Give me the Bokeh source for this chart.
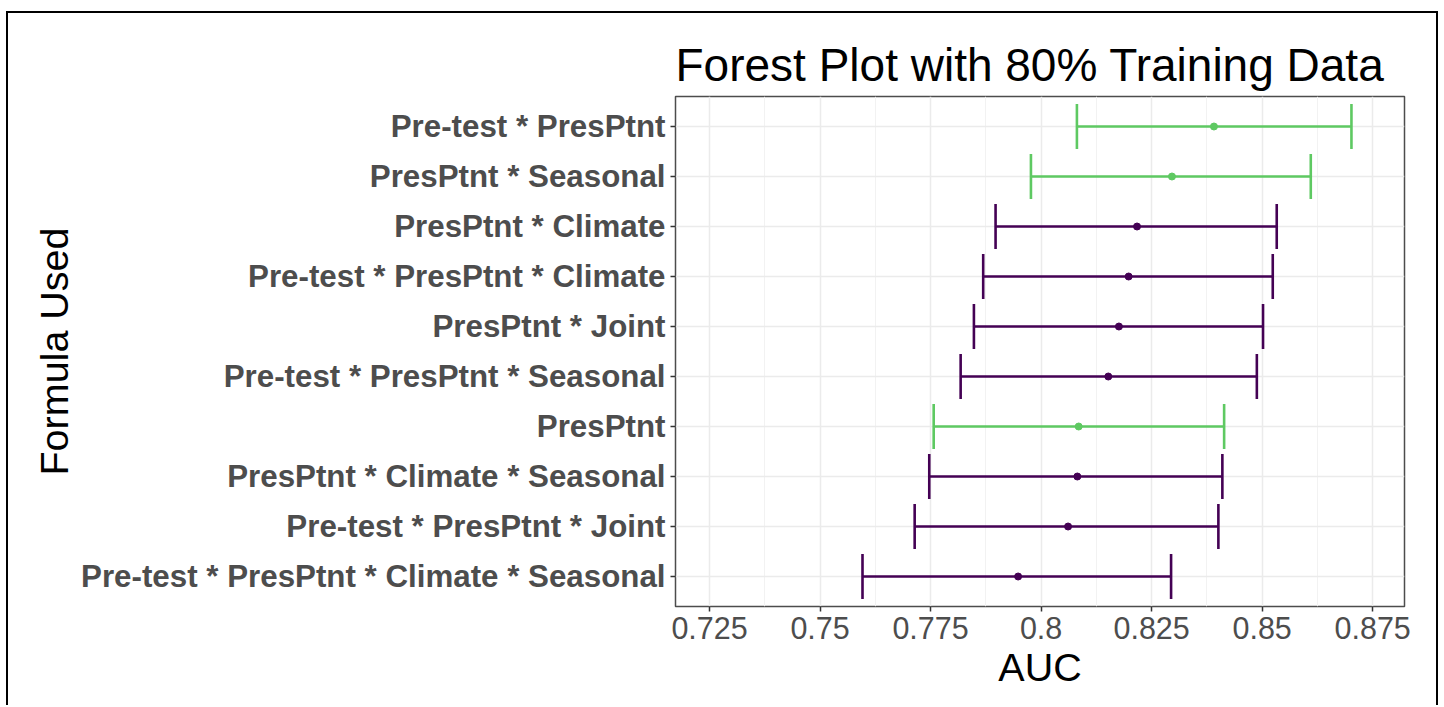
from bokeh.plotting import figure
from bokeh.models import ColumnDataSource, FactorRange, Range1d, FixedTicker, CustomJSTickFormatter
from bokeh.transform import dodge
from bokeh.embed import file_html
from bokeh.resources import INLINE

# ---- data (top row first) ----
formulas = [
    "Pre-test * PresPtnt",
    "PresPtnt * Seasonal",
    "PresPtnt * Climate",
    "Pre-test * PresPtnt * Climate",
    "PresPtnt * Joint",
    "Pre-test * PresPtnt * Seasonal",
    "PresPtnt",
    "PresPtnt * Climate * Seasonal",
    "Pre-test * PresPtnt * Joint",
    "Pre-test * PresPtnt * Climate * Seasonal",
]
auc = [0.8391, 0.8296, 0.8217, 0.8198, 0.8176, 0.8152, 0.8085, 0.8082, 0.8061, 0.7948]
lower = [0.8081, 0.7977, 0.7897, 0.7869, 0.7848, 0.7818, 0.7757, 0.7747, 0.7714, 0.7596]
upper = [0.8702, 0.8610, 0.8533, 0.8524, 0.8502, 0.8488, 0.8414, 0.8410, 0.8401, 0.8294]
groups = ["green", "green", "purple", "purple", "purple", "purple", "green", "purple", "purple", "purple"]
x_ticks = [0.725, 0.75, 0.775, 0.8, 0.825, 0.85, 0.875]
group_colors = {"green": "#5EC962", "purple": "#440154"}

FONT = "Liberation Sans"

source = ColumnDataSource(dict(
    formula=formulas,
    auc=auc,
    lower=lower,
    upper=upper,
    color=[group_colors[g] for g in groups],
))

factors = list(reversed(formulas))  # bottom-to-top

p = figure(
    width=1428, height=694,
    y_range=FactorRange(factors=factors, range_padding=0.1, range_padding_units="absolute"),
    x_range=Range1d(0.7173, 0.8822),
    output_backend="svg", toolbar_location=None,
    min_border_left=667, min_border_right=32, min_border_top=83, min_border_bottom=101,
    title="Forest Plot with 80% Training Data",
)

p.styles = {"position": "relative", "top": "13px", "left": "8px",
            "box-shadow": "-2px -2px 0 0 #000, 2px -2px 0 0 #000"}

# title
p.title.text_font = FONT
p.title.text_font_size = "46px"
p.title.text_font_style = "normal"
p.title.text_color = "#000000"
p.title.align = "left"
p.title.standoff = 11

# frame
p.background_fill_color = "#FFFFFF"
p.outline_line_color = "#4D4D4D"
p.outline_line_width = 1.5

# x ticks
minor = [(a + b) / 2 for a, b in zip(x_ticks, x_ticks[1:])]
ticker = FixedTicker(ticks=x_ticks, minor_ticks=minor)
p.xaxis.ticker = ticker
p.xgrid.ticker = ticker
p.xaxis.formatter = CustomJSTickFormatter(code="return tick.toString();")

# grids
p.xgrid.grid_line_color = "#EBEBEB"
p.xgrid.grid_line_width = 1.5
p.xgrid.minor_grid_line_color = "#F2F2F2"
p.xgrid.minor_grid_line_width = 1
p.ygrid.grid_line_color = "#EBEBEB"
p.ygrid.grid_line_width = 1.5

# axes
for ax in (p.xaxis, p.yaxis):
    ax.axis_line_color = None
    ax.major_tick_line_color = "#333333"
    ax.major_tick_line_width = 1.5
    ax.major_tick_out = 5
    ax.major_tick_in = 0
    ax.minor_tick_line_color = None
    ax.major_label_text_font = FONT
    ax.major_label_text_color = "#4D4D4D"
    ax.axis_label_text_font = FONT
    ax.axis_label_text_font_style = "normal"
    ax.axis_label_text_color = "#000000"
    ax.axis_label_text_font_size = "39.5px"

p.xaxis.axis_label = "AUC"
p.xaxis.major_label_text_font_size = "30.5px"
p.xaxis.major_label_standoff = 5
p.xaxis.axis_label_standoff = 3

p.yaxis.axis_label = "Formula Used"
p.yaxis.major_label_text_font_size = "31.3px"
p.yaxis.major_label_text_font_style = "bold"
p.yaxis.major_label_standoff = 5
p.yaxis.axis_label_standoff = 2

# error bars
LW = 2.6
p.segment(x0="lower", y0="formula", x1="upper", y1="formula",
          line_color="color", line_width=LW, source=source)
p.segment(x0="lower", y0=dodge("formula", -0.45, range=p.y_range),
          x1="lower", y1=dodge("formula", 0.45, range=p.y_range),
          line_color="color", line_width=LW, source=source)
p.segment(x0="upper", y0=dodge("formula", -0.45, range=p.y_range),
          x1="upper", y1=dodge("formula", 0.45, range=p.y_range),
          line_color="color", line_width=LW, source=source)
p.scatter(x="auc", y="formula", size=7, fill_color="color", line_color="color", source=source)

open("out.html", "w").write(file_html(p, INLINE))
